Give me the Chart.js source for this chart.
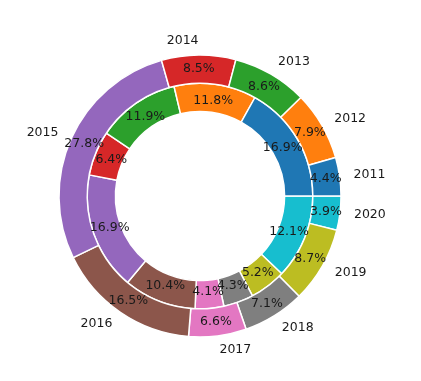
<!DOCTYPE html>
<html>
<head>
<meta charset="utf-8">
<script src="https://cdn.jsdelivr.net/npm/chart.js@4/dist/chart.umd.min.js"></script>
<style>
html,body{margin:0;padding:0;background:#fff;}
canvas{display:block;}
</style>
</head>
<body>
<canvas id="c" width="421" height="381"></canvas>
<script>
// Outer ring: share of each year (%)
const years = ['2011','2012','2013','2014','2015','2016','2017','2018','2019','2020'];
const outerValues = [4.4, 7.9, 8.6, 8.5, 27.8, 16.5, 6.6, 7.1, 8.7, 3.9];
// Inner ring: second breakdown (%)
const innerValues = [16.9, 11.8, 11.9, 6.4, 16.9, 10.4, 4.1, 4.3, 5.2, 12.1];
const colors = ['#1f77b4','#ff7f0e','#2ca02c','#d62728','#9467bd','#8c564b','#e377c2','#7f7f7f','#bcbd22','#17becf'];

// matplotlib draws counter-clockwise from 3 o'clock; Chart.js draws clockwise,
// so feed the data reversed and start at 3 o'clock.
const rev = a => a.slice().reverse();

const labelPlugin = {
  id: 'pieLabels',
  afterDatasetsDraw(chart) {
    const ctx = chart.ctx;
    ctx.save();
    ctx.font = '12.5px "DejaVu Sans"';
    ctx.fillStyle = '#1a1a1a';
    chart.data.datasets.forEach((ds, di) => {
      const meta = chart.getDatasetMeta(di);
      const total = ds.data.reduce((s, v) => s + v, 0);
      const frac = di === 0 ? 0.9 : 0.85;
      meta.data.forEach((arc, i) => {
        const mid = (arc.startAngle + arc.endAngle) / 2;
        const r = arc.outerRadius * frac;
        ctx.textAlign = 'center';
        ctx.textBaseline = 'middle';
        const pct = (ds.data[i] / total * 100).toFixed(1) + '%';
        ctx.fillText(pct, arc.x + r * Math.cos(mid), arc.y + r * Math.sin(mid));
        if (di === 0) {
          const rl = arc.outerRadius * 1.1;
          const cx = Math.cos(mid);
          ctx.textAlign = cx >= 0 ? 'left' : 'right';
          ctx.fillText(chart.data.labels[i], arc.x + rl * cx, arc.y + rl * Math.sin(mid));
        }
      });
    });
    ctx.restore();
  }
};

new Chart(document.getElementById('c'), {
  type: 'doughnut',
  data: {
    labels: rev(years),
    datasets: [
      { data: rev(outerValues), backgroundColor: rev(colors), borderColor: '#ffffff', borderWidth: 1.5 },
      { data: rev(innerValues), backgroundColor: rev(colors), borderColor: '#ffffff', borderWidth: 1.5 }
    ]
  },
  options: {
    responsive: false,
    animation: false,
    rotation: 90,
    cutout: '60%',
    radius: 141,
    layout: { padding: { left: 0, right: 21, top: 11, bottom: 0 } },
    plugins: { legend: { display: false }, tooltip: { enabled: false } },
    events: []
  },
  plugins: [labelPlugin]
});
</script>
</body>
</html>
